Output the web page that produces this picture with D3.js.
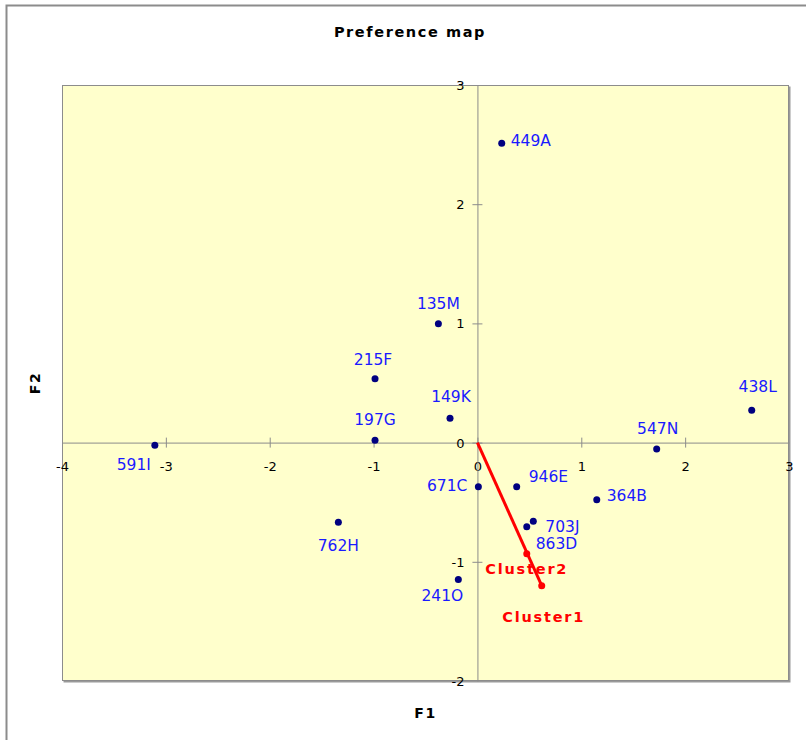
<!DOCTYPE html>
<html>
<head>
<meta charset="utf-8">
<script src="https://cdn.jsdelivr.net/npm/d3@7"></script>
<style>
    body { margin: 0; background: #ffffff; }
    text { font-family: "DejaVu Sans", Verdana, sans-serif; }
    .tick text { font-size: 13px; fill: #000; }
</style>
</head>
<body>
<div id="chart"></div>
<script>
// products (observations)
const productNames = ["449A", "135M", "215F", "149K", "197G", "591I", "438L", "547N",
    "671C", "946E", "364B", "703J", "863D", "762H", "241O"];
const productF1 = [0.234, -0.376, -0.986, -0.264, -0.986, -3.106, 2.641, 1.726,
    0.009, 0.378, 1.149, 0.538, 0.475, -1.339, -0.184];
const productF2 = [2.511, 0.998, 0.536, 0.204, 0.019, -0.023, 0.271, -0.054,
    -0.37, -0.37, -0.48, -0.66, -0.707, -0.669, -1.148];

// cluster preference vectors
const clusterNames = ["Cluster1", "Cluster2"];
const clusterF1 = [0.619, 0.475];
const clusterF2 = [-1.20, -0.932];

const xTicks = [-4, -3, -2, -1, 0, 1, 2, 3];
const yTicks = [-2, -1, 0, 1, 2, 3];

//label placement around each point
const labelPos = {
    "449A": [9, 3, "start"], "135M": [0, -15, "middle"], "215F": [-2, -14, "middle"],
    "149K": [1, -16, "middle"], "197G": [0, -15, "middle"], "591I": [-4, 25, "end"],
    "438L": [6, -18, "middle"], "547N": [1, -15, "middle"], "671C": [-11, 4, "end"],
    "946E": [12, -5, "start"], "364B": [10, 1, "start"], "703J": [12, 11, "start"],
    "863D": [9, 22, "start"], "762H": [0, 29, "middle"], "241O": [-16, 22, "middle"],
    "Cluster1": [2, 36, "middle"], "Cluster2": [0, 20, "middle"]
};

const dimensions = {
    width: 806, height: 740,
    margin: { top: 85, right: 17, bottom: 59, left: 62 }
};
dimensions.boundedWidth = dimensions.width - dimensions.margin.left - dimensions.margin.right;
dimensions.boundedHeight = dimensions.height - dimensions.margin.top - dimensions.margin.bottom;

const products = productNames.map((name, i) => ({ name, x: productF1[i], y: productF2[i] }));
const clusters = clusterNames.map((name, i) => ({ name, x: clusterF1[i], y: clusterF2[i] }));

const xScale = d3.scaleLinear().domain([-4, 3]).range([0, dimensions.boundedWidth]);
const yScale = d3.scaleLinear().domain([-2, 3]).range([dimensions.boundedHeight, 0]);
const tickText = d => String(d);

const wrapper = d3.select("#chart")
    .append("svg")
    .attr("width", dimensions.width)
    .attr("height", dimensions.height);

//outer chart frame
wrapper.append("rect")
    .attr("x", 6.5).attr("y", 5.5)
    .attr("width", 820).attr("height", 760)
    .style("fill", "none")
    .style("stroke", "#8c8c8c")
    .style("stroke-width", 2);

//title
wrapper.append("text")
    .attr("x", 410).attr("y", 37)
    .attr("text-anchor", "middle")
    .style("font-size", "14.5px")
    .style("font-weight", "bold")
    .style("letter-spacing", "1.6px")
    .text("Preference map");

const bounds = wrapper.append("g")
    .style("transform", `translate(${dimensions.margin.left}px, ${dimensions.margin.top}px)`);

//plot area with shadow
bounds.append("rect")
    .attr("x", 1.5).attr("y", 1.5)
    .attr("width", dimensions.boundedWidth).attr("height", dimensions.boundedHeight)
    .style("fill", "#9a9a9a");
bounds.append("rect")
    .attr("x", 0.5).attr("y", 0.5)
    .attr("width", dimensions.boundedWidth - 1).attr("height", dimensions.boundedHeight - 1)
    .style("fill", "#ffffcc")
    .style("stroke", "#8c8c8c")
    .style("stroke-width", 1);

//axes through origin
const xAxis = bounds.append("g")
    .attr("transform", `translate(0, ${yScale(0)})`)
    .call(d3.axisBottom(xScale).tickValues(xTicks).tickFormat(tickText)
        .tickSizeInner(5).tickSizeOuter(0).tickPadding(14));
xAxis.select(".domain").attr("stroke", "#8c8c8c");
xAxis.selectAll(".tick line").attr("stroke", "#8c8c8c").attr("y1", -5);
xAxis.selectAll(".tick").filter(d => d == -4 || d == 3).select("line").remove();

const yAxis = bounds.append("g")
    .attr("transform", `translate(${xScale(0)}, 0)`)
    .call(d3.axisLeft(yScale).tickValues(yTicks).tickFormat(tickText)
        .tickSizeInner(5).tickSizeOuter(0).tickPadding(8));
yAxis.select(".domain").attr("stroke", "#8c8c8c");
yAxis.selectAll(".tick line").attr("stroke", "#8c8c8c").attr("x1", 5);
yAxis.selectAll(".tick").filter(d => d == -2 || d == 3).select("line").remove();
yAxis.selectAll(".tick text").attr("dy", "0.35em");

//axis titles
wrapper.append("text")
    .attr("x", dimensions.margin.left + dimensions.boundedWidth / 2)
    .attr("y", 718)
    .attr("text-anchor", "middle")
    .style("font-size", "14px")
    .style("font-weight", "bold")
    .style("letter-spacing", "1.5px")
    .text("F1");
wrapper.append("text")
    .attr("transform", `translate(40, ${dimensions.margin.top + dimensions.boundedHeight / 2}) rotate(-90)`)
    .attr("text-anchor", "middle")
    .style("font-size", "14px")
    .style("font-weight", "bold")
    .style("letter-spacing", "1.5px")
    .text("F2");

//cluster vector
bounds.append("line")
    .attr("x1", xScale(0)).attr("y1", yScale(0))
    .attr("x2", xScale(clusters[0].x)).attr("y2", yScale(clusters[0].y))
    .style("stroke", "#ff0000")
    .style("stroke-width", 3);

bounds.selectAll(".cluster")
    .data(clusters)
    .enter().append("circle")
    .attr("class", "cluster")
    .attr("cx", d => xScale(d.x))
    .attr("cy", d => yScale(d.y))
    .attr("r", 3.5)
    .style("fill", "#ff0000");

bounds.selectAll(".clusterLabel")
    .data(clusters)
    .enter().append("text")
    .attr("class", "clusterLabel")
    .attr("x", d => xScale(d.x) + labelPos[d.name][0])
    .attr("y", d => yScale(d.y) + labelPos[d.name][1])
    .attr("text-anchor", d => labelPos[d.name][2])
    .style("font-size", "14.5px")
    .style("font-weight", "bold")
    .style("letter-spacing", "1.8px")
    .style("fill", "#ff0000")
    .text(d => d.name);

//products
bounds.selectAll(".product")
    .data(products)
    .enter().append("circle")
    .attr("class", "product")
    .attr("cx", d => xScale(d.x))
    .attr("cy", d => yScale(d.y))
    .attr("r", 3.5)
    .style("fill", "#000080");

bounds.selectAll(".productLabel")
    .data(products)
    .enter().append("text")
    .attr("class", "productLabel")
    .attr("x", d => xScale(d.x) + labelPos[d.name][0])
    .attr("y", d => yScale(d.y) + labelPos[d.name][1])
    .attr("text-anchor", d => labelPos[d.name][2])
    .style("font-size", "15.5px")
    .style("fill", "#1a1aff")
    .text(d => d.name);
</script>
</body>
</html>
